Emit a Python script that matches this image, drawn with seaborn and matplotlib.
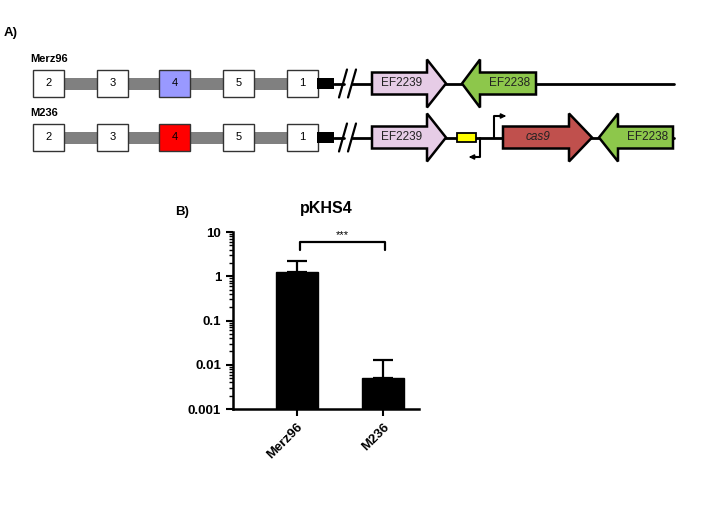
import numpy as np
import matplotlib
matplotlib.use("Agg")
import matplotlib.pyplot as plt
from matplotlib.patches import Rectangle, Polygon
import seaborn as sns

# panel B data
strains = ["Merz96", "M236"]
means = [1.23, 0.0049]
sd = [1.02, 0.0081]
stars = "***"

# panel A labels
rows = ["Merz96", "M236"]
exons = ["2", "3", "4", "5", "1"]
exon4_colors = ["#9999FF", "#FF0000"]

sns.set_theme(style="ticks")
plt.rcParams["font.family"] = ["Liberation Sans", "DejaVu Sans"]
plt.rcParams["text.color"] = "black"
plt.rcParams["xtick.color"] = "black"
plt.rcParams["ytick.color"] = "black"
plt.rcParams["axes.edgecolor"] = "black"

W, H = 703, 505
fig = plt.figure(figsize=(W / 100, H / 100), dpi=100)

# ---------------- panel A: gene diagram (pixel coords) ----------------
axA = fig.add_axes([0, 0, 1, 1])
axA.set_xlim(0, W)
axA.set_ylim(H, 0)
axA.axis("off")

def arrow(ax, x0, xb, xt, yc, bh, hh, color, label, italic=False):
    # x0 = body tail, xb = head base, xt = tip
    pts = [(x0, yc - bh), (xb, yc - bh), (xb, yc - hh), (xt, yc),
           (xb, yc + hh), (xb, yc + bh), (x0, yc + bh)]
    ax.add_patch(Polygon(pts, closed=True, fc=color, ec="black", lw=1.8, zorder=3))
    ax.text((x0 + xb) / 2 + 2, yc, label, ha="center", va="center", fontsize=8.5,
            style="italic" if italic else "normal", color="#222222", zorder=4)

axA.text(4, 33, "A)", fontsize=9.5, fontweight="bold", va="center")

box_x = [33, 97, 159, 223, 287]
for r, yc in enumerate([83.5, 137.5]):
    axA.text(30, yc - 24.5, rows[r], fontsize=8, fontweight="bold", va="center")
    axA.add_patch(Rectangle((63, yc - 6), 224, 12, fc="#808080", ec="none", zorder=1))
    for i, lab in enumerate(exons):
        fc = exon4_colors[r] if lab == "4" else "white"
        axA.add_patch(Rectangle((box_x[i], yc - 13.5), 31, 27, fc=fc, ec="#333333", lw=1, zorder=2))
        axA.text(box_x[i] + 15.5, yc, lab, ha="center", va="center", fontsize=8, zorder=3)
    axA.add_patch(Rectangle((317, yc - 5.5), 17, 11, fc="black", ec="none", zorder=2))
    axA.plot([334, 344], [yc, yc], color="black", lw=2, zorder=1)
    axA.plot([339, 347], [yc + 14, yc - 14], color="black", lw=1.6, zorder=2)
    axA.plot([348, 356], [yc + 14, yc - 14], color="black", lw=1.6, zorder=2)
    axA.plot([352, 674], [yc, yc], color="black", lw=2, zorder=1)
    arrow(axA, 372, 427, 446, yc, 11, 24, "#E6CCE6", "EF2239")

yc1, yc2 = 83.5, 137.5
arrow(axA, 536, 480, 462, yc1, 11, 24, "#8DC74B", "EF2238")
arrow(axA, 503, 569, 592, yc2, 11, 24, "#C0504D", "cas9", italic=True)
arrow(axA, 673, 618, 599, yc2, 11, 24, "#8DC74B", "EF2238")
axA.add_patch(Rectangle((457, yc2 - 4.5), 19, 9, fc="#FFFF00", ec="black", lw=1.3, zorder=3))
# promoters
axA.plot([494, 494, 503], [yc2, 116, 116], color="black", lw=1.5, zorder=2)
axA.annotate("", xy=(509, 116), xytext=(500, 116),
             arrowprops=dict(arrowstyle="-|>", color="black", lw=1.2, mutation_scale=7))
axA.plot([480, 480, 472], [yc2, 157, 157], color="black", lw=1.5, zorder=2)
axA.annotate("", xy=(466, 157), xytext=(475, 157),
             arrowprops=dict(arrowstyle="-|>", color="black", lw=1.2, mutation_scale=7))

# ---------------- panel B: bar chart ----------------
axB = fig.add_axes([233 / W, 1 - 409 / H, 186 / W, 177 / H])
axB.set_yscale("log")
sns.barplot(x=strains, y=means, color="black", width=0.49, ax=axB,
            saturation=1, edgecolor="black", zorder=2)
axB.errorbar(np.arange(len(strains)), means, yerr=[np.zeros(len(sd)), sd],
             fmt="none", ecolor="black", elinewidth=1.6, capsize=7, capthick=1.6, zorder=1)
axB.set_ylim(0.001, 10)
axB.set_xlim(-0.744, 1.42)
axB.set_yticks([0.001, 0.01, 0.1, 1, 10])
axB.set_yticklabels(["0.001", "0.01", "0.1", "1", "10"])
axB.tick_params(axis="y", which="major", length=5, width=1.5, labelsize=9.5)
axB.tick_params(axis="y", which="minor", length=3, width=1)
axB.tick_params(axis="x", length=5, width=1.5, labelsize=9.5)
for t in axB.get_yticklabels() + axB.get_xticklabels():
    t.set_fontweight("bold")
plt.setp(axB.get_xticklabels(), rotation=45, ha="right", rotation_mode="anchor")
sns.despine(ax=axB)
for s in ["left", "bottom"]:
    axB.spines[s].set_linewidth(1.8)

axB.plot([0.035, 0.035, 1.02, 1.02], [3.9, 6.0, 6.0, 3.9], color="black", lw=1.6, clip_on=False)
axB.text(0.53, 6.4, stars, ha="center", va="bottom", fontsize=8)
axB.set_title("pKHS4", fontsize=11.5, fontweight="bold", pad=14)
fig.text(175 / W, 1 - 212 / H, "B)", fontsize=9.5, fontweight="bold", va="center")

fig.savefig("out.png", dpi=100)
